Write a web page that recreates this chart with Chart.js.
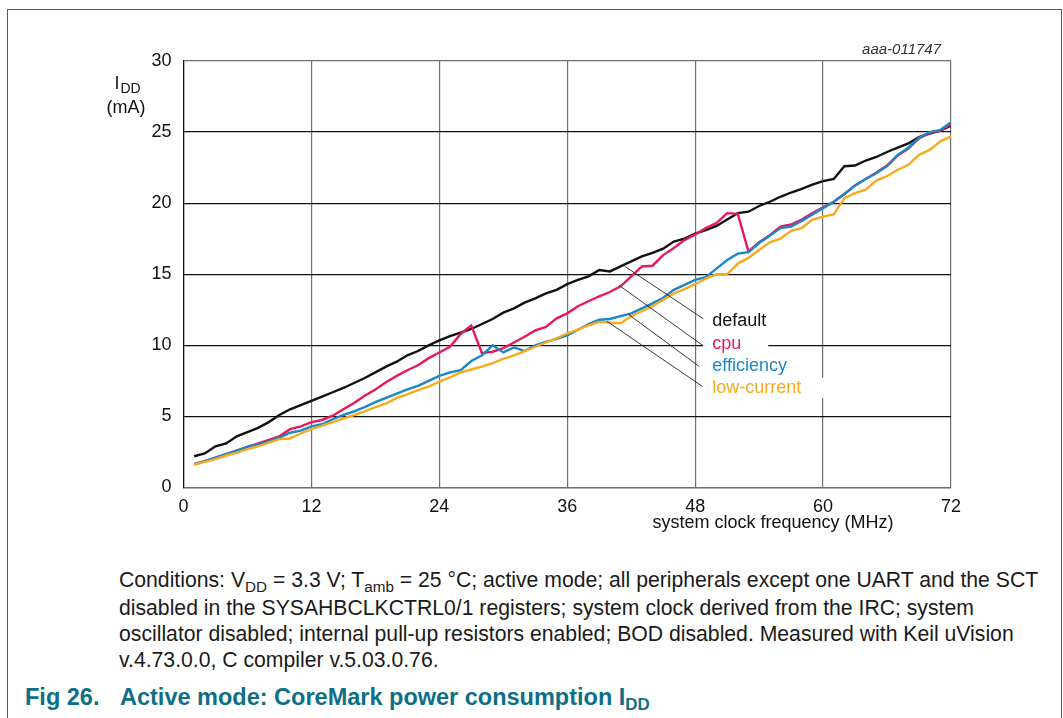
<!DOCTYPE html>
<html>
<head>
<meta charset="utf-8">
<script src="https://cdn.jsdelivr.net/npm/chart.js@4.4.1/dist/chart.umd.min.js"></script>
<style>
    body { margin: 0; background: #fff; font-family: "Liberation Sans", Arial, sans-serif; }
    #page { position: relative; width: 1063px; height: 718px; overflow: hidden; background: #fff; }
    #frame { position: absolute; left: 7px; top: 9px; width: 1053px; height: 760px; border: 1.5px solid #1f6f82; }
    #wrap { position: absolute; left: 0; top: 0; width: 1063px; height: 545px; }
    #cond { position: absolute; left: 119px; top: 567px; font-size: 21.2px; line-height: 26px; color: #1a1a1a; white-space: nowrap; }
    #title { position: absolute; left: 0; top: 684px; font-size: 23.5px; font-weight: bold; color: #0d6f86; white-space: nowrap; }
    #title span { position: absolute; top: 0; }
    sub { font-size: 0.72em; vertical-align: baseline; position: relative; top: 0.3em; }
</style>
</head>
<body>
<div id="page">
    <div id="frame"></div>
    <div id="wrap"><canvas id="powerChart" width="1063" height="545"></canvas></div>
    <div id="cond">
        Conditions: V<sub>DD</sub> = 3.3 V; T<sub>amb</sub> = 25 °C; active mode; all peripherals except one UART and the SCT<br>
        disabled in the SYSAHBCLKCTRL0/1 registers; system clock derived from the IRC; system<br>
        oscillator disabled; internal pull-up resistors enabled; BOD disabled. Measured with Keil uVision<br>
        v.4.73.0.0, C compiler v.5.03.0.76.
    </div>
    <div id="title"><span style="left:25px">Fig 26.</span><span style="left:120px">Active mode: CoreMark power consumption I<sub>DD</sub></span></div>
</div>
<script>
// system clock frequency (MHz)
const freqMHz = [1, 2, 3, 4, 5, 6, 7, 8, 9, 10, 11, 12, 13, 14, 15, 16, 17, 18, 19, 20, 21, 22, 23, 24,
    25, 26, 27, 28, 29, 30, 31, 32, 33, 34, 35, 36, 37, 38, 39, 40, 41, 42, 43, 44, 45, 46, 47, 48,
    49, 50, 51, 52, 53, 54, 55, 56, 57, 58, 59, 60, 61, 62, 63, 64, 65, 66, 67, 68, 69, 70, 71, 72];

// IDD (mA) per power profile
const iddDefault = [2.2, 2.4, 2.9, 3.1, 3.6, 3.9, 4.2, 4.6, 5.1, 5.5, 5.8, 6.1, 6.4, 6.7, 7.0, 7.35, 7.7, 8.1, 8.5, 8.85, 9.3, 9.6, 10.0, 10.35,
    10.65, 10.9, 11.15, 11.5, 11.85, 12.3, 12.6, 13.0, 13.3, 13.65, 13.9, 14.3, 14.6, 14.85, 15.3, 15.2, 15.55, 15.9, 16.25, 16.5, 16.8, 17.3, 17.5, 17.85,
    18.1, 18.4, 18.85, 19.3, 19.4, 19.8, 20.1, 20.45, 20.75, 21.0, 21.3, 21.55, 21.7, 22.6, 22.65, 23.0, 23.25, 23.6, 23.9, 24.2, 24.65, 24.9, 25.1, 25.45];
const iddCpu = [1.65, 1.85, 2.1, 2.35, 2.6, 2.85, 3.1, 3.35, 3.6, 4.1, 4.3, 4.6, 4.75, 5.05, 5.5, 5.95, 6.45, 6.9, 7.4, 7.85, 8.25, 8.6, 9.1, 9.5,
    9.9, 10.8, 11.4, 9.45, 9.55, 9.8, 10.2, 10.6, 11.05, 11.3, 11.9, 12.25, 12.75, 13.1, 13.45, 13.75, 14.15, 14.85, 15.55, 15.6, 16.35, 16.85, 17.4, 17.8,
    18.25, 18.6, 19.3, 19.25, 16.6, 17.25, 17.75, 18.35, 18.5, 18.85, 19.3, 19.7, 20.1, 20.65, 21.25, 21.7, 22.15, 22.65, 23.35, 23.85, 24.55, 24.95, 25.1, 25.55];
const iddEfficiency = [1.65, 1.85, 2.1, 2.35, 2.6, 2.85, 3.05, 3.25, 3.5, 3.85, 4.0, 4.3, 4.45, 4.8, 5.1, 5.35, 5.65, 6.0, 6.3, 6.6, 6.9, 7.15, 7.5, 7.85,
    8.1, 8.25, 8.9, 9.3, 10.0, 9.5, 9.85, 9.6, 10.0, 10.25, 10.45, 10.7, 11.1, 11.5, 11.8, 11.85, 12.05, 12.25, 12.6, 12.95, 13.35, 13.9, 14.25, 14.6,
    14.8, 15.4, 16.0, 16.45, 16.55, 17.2, 17.7, 18.25, 18.35, 18.75, 19.2, 19.65, 20.1, 20.65, 21.25, 21.7, 22.1, 22.6, 23.4, 23.9, 24.6, 25.0, 25.15, 25.7];
const iddLowCurrent = [1.6, 1.8, 2.0, 2.25, 2.45, 2.7, 2.9, 3.15, 3.4, 3.45, 3.8, 4.1, 4.35, 4.6, 4.85, 5.1, 5.35, 5.65, 5.9, 6.3, 6.55, 6.85, 7.1, 7.45,
    7.75, 8.1, 8.3, 8.5, 8.75, 9.05, 9.3, 9.6, 9.9, 10.2, 10.5, 10.85, 11.1, 11.4, 11.65, 11.6, 11.55, 12.05, 12.4, 12.75, 13.2, 13.65, 13.95, 14.3,
    14.7, 15.0, 15.0, 15.75, 16.15, 16.7, 17.25, 17.5, 18.05, 18.25, 18.85, 19.05, 19.2, 20.35, 20.7, 20.95, 21.6, 21.9, 22.35, 22.7, 23.4, 23.75, 24.35, 24.7];

const xTicks = [0, 12, 24, 36, 48, 60, 72];
const yTicks = [0, 5, 10, 15, 20, 25, 30];

const seriesNames = ['default', 'cpu', 'efficiency', 'low-current'];
const seriesColors = ['#111111', '#e8195a', '#1b87c9', '#f6aa1c'];

// leader lines: [fromMHz, frommA, toMHz, tomA]
const leaderLines = [
    [41.4, 15.55, 49.3, 11.6],
    [40.9, 14.2, 48.7, 10.0],
    [41.7, 12.2, 48.4, 8.5],
    [39.7, 11.7, 48.7, 7.1]
];
// label anchors [MHz, mA]
const labelAnchors = [[49.6, 11.7], [49.6, 10.1], [49.6, 8.55], [49.6, 7.0]];

const FONT = '"Liberation Sans", Arial, sans-serif';

function pts(ys) {
    return freqMHz.map((f, i) => ({ x: f, y: ys[i] }));
}

const seriesData = [iddDefault, iddCpu, iddEfficiency, iddLowCurrent];
const datasets = seriesData.map((ys, i) => ({
    label: seriesNames[i],
    data: pts(ys),
    borderColor: seriesColors[i],
    borderWidth: 2.4,
    pointRadius: 0,
    tension: 0,
    order: 4 - i
}));
leaderLines.forEach(l => {
    datasets.push({
        data: [{ x: l[0], y: l[1] }, { x: l[2], y: l[3] }],
        borderColor: '#222',
        borderWidth: 0.9,
        pointRadius: 0,
        order: 0
    });
});

// texts around the plot
const textPlugin = {
    id: 'texts',
    afterDatasetsDraw(chart) {
        const { ctx, chartArea: a, scales: { x, y } } = chart;
        ctx.save();
        ctx.textBaseline = 'middle';

        // series labels
        ctx.font = '18px ' + FONT;
        labelAnchors.forEach((p, i) => {
            const px = x.getPixelForValue(p[0]);
            const py = y.getPixelForValue(p[1]);
            const w = ctx.measureText(seriesNames[i]).width;
            ctx.fillStyle = '#fff';
            ctx.fillRect(px - 9, py - 10, w + 36, 20);
            ctx.fillStyle = seriesColors[i];
            ctx.textAlign = 'left';
            ctx.fillText(seriesNames[i], px, py);
        });

        // y title
        ctx.fillStyle = '#111';
        ctx.textAlign = 'left';
        ctx.font = '18px ' + FONT;
        ctx.fillText('I', a.left - 69, a.top + 23);
        const iw = ctx.measureText('I').width;
        ctx.font = '14px ' + FONT;
        ctx.fillText('DD', a.left - 69 + iw + 1, a.top + 28);
        ctx.font = '18px ' + FONT;
        ctx.fillText('(mA)', a.left - 77, a.top + 47);

        // x title
        ctx.textAlign = 'center';
        ctx.fillText('system clock frequency (MHz)', x.getPixelForValue(55.3), a.bottom + 36);

        // figure id
        ctx.font = 'italic 15px ' + FONT;
        ctx.textAlign = 'right';
        ctx.fillStyle = '#333';
        ctx.fillText('aaa-011747', a.right - 10, a.top - 11);
        ctx.restore();
    }
};

new Chart(document.getElementById('powerChart'), {
    type: 'line',
    data: { datasets: datasets },
    options: {
        responsive: false,
        animation: false,
        events: [],
        layout: { padding: { top: 61, right: 112, left: 0, bottom: 0 } },
        plugins: { legend: { display: false }, tooltip: { enabled: false } },
        scales: {
            x: {
                type: 'linear',
                min: 0,
                max: 72,
                afterFit(s) { s.height = 57.5; },
                afterBuildTicks(s) { s.ticks = xTicks.map(v => ({ value: v })); },
                grid: { color: '#707070', lineWidth: 1.2, drawTicks: false },
                border: { color: '#707070', width: 1.2 },
                ticks: { color: '#111', font: { size: 18, family: FONT }, padding: 9, maxRotation: 0 }
            },
            y: {
                min: 0,
                max: 30,
                afterFit(s) { s.width = 183.5; },
                afterBuildTicks(s) { s.ticks = yTicks.map(v => ({ value: v })); },
                grid: {
                    color: c => c.tick && c.tick.value === 30 ? '#707070' : '#111',
                    lineWidth: 1.2,
                    drawTicks: false
                },
                border: { color: '#111', width: 1.2 },
                ticks: { color: '#111', font: { size: 18, family: FONT }, padding: 12 }
            }
        }
    },
    plugins: [textPlugin]
});
</script>
</body>
</html>
